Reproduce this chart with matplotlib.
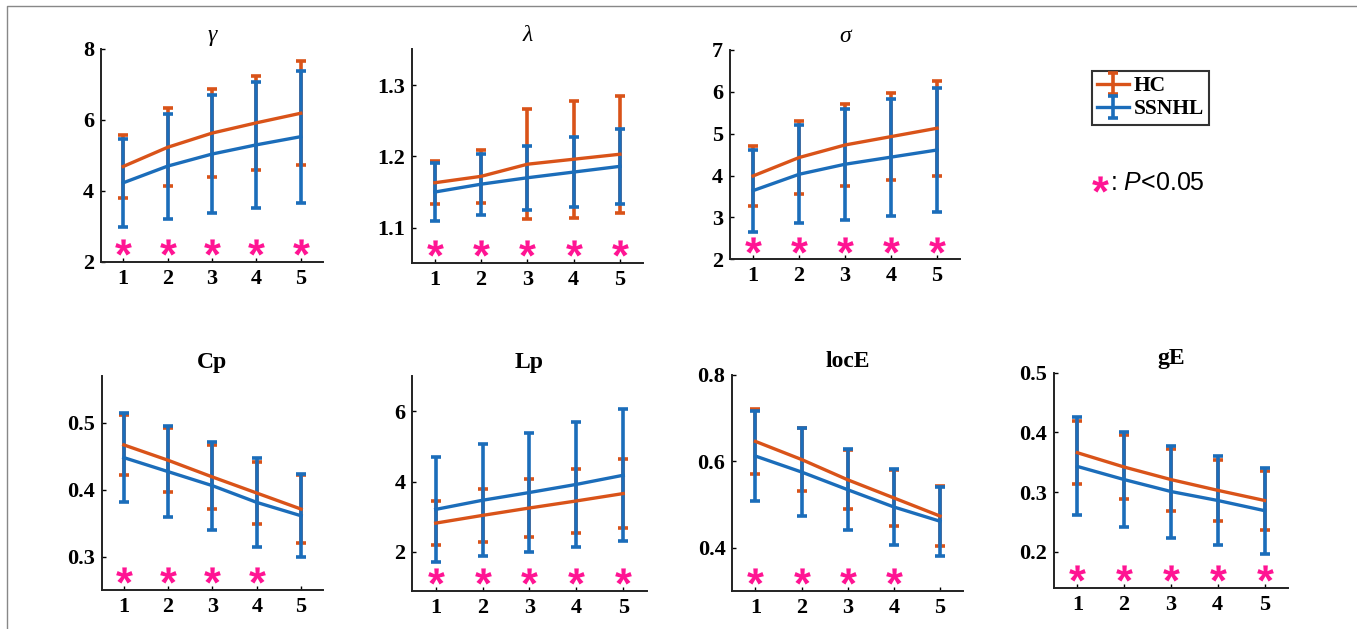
import numpy as np
import matplotlib
matplotlib.use("Agg")
import matplotlib.pyplot as plt
from matplotlib.transforms import blended_transform_factory
from matplotlib.lines import Line2D

plt.rcParams['font.family'] = ['Liberation Serif', 'DejaVu Serif']
plt.rcParams['mathtext.fontset'] = 'custom'
plt.rcParams['mathtext.it'] = 'Liberation Sans:italic'
plt.rcParams['mathtext.rm'] = 'Liberation Sans'
plt.rcParams['mathtext.bf'] = 'Liberation Sans:bold'

# thresholds 1..5
x = [1, 2, 3, 4, 5]

# mean and sd per metric, HC and SSNHL
gamma_hc = [4.69, 5.23, 5.63, 5.92, 6.19]
gamma_hc_sd = [0.90, 1.10, 1.24, 1.33, 1.47]
gamma_ss = [4.23, 4.70, 5.04, 5.30, 5.53]
gamma_ss_sd = [1.24, 1.48, 1.65, 1.77, 1.86]

lambda_hc = [1.163, 1.172, 1.189, 1.196, 1.203]
lambda_hc_sd = [0.030, 0.037, 0.077, 0.082, 0.082]
lambda_ss = [1.150, 1.161, 1.170, 1.178, 1.186]
lambda_ss_sd = [0.040, 0.043, 0.045, 0.049, 0.053]

sigma_hc = [3.99, 4.43, 4.73, 4.93, 5.13]
sigma_hc_sd = [0.72, 0.87, 0.98, 1.04, 1.14]
sigma_ss = [3.64, 4.03, 4.27, 4.44, 4.61]
sigma_ss_sd = [0.98, 1.17, 1.32, 1.40, 1.47]

cp_hc = [0.467, 0.444, 0.419, 0.395, 0.371]
cp_hc_sd = [0.045, 0.048, 0.048, 0.046, 0.051]
cp_ss = [0.448, 0.427, 0.406, 0.381, 0.361]
cp_ss_sd = [0.066, 0.068, 0.066, 0.066, 0.062]

lp_hc = [2.82, 3.04, 3.25, 3.45, 3.66]
lp_hc_sd = [0.63, 0.75, 0.83, 0.90, 0.98]
lp_ss = [3.21, 3.47, 3.69, 3.92, 4.18]
lp_ss_sd = [1.50, 1.59, 1.68, 1.78, 1.87]

loce_hc = [0.646, 0.604, 0.557, 0.515, 0.473]
loce_hc_sd = [0.075, 0.073, 0.068, 0.065, 0.070]
loce_ss = [0.612, 0.575, 0.534, 0.494, 0.461]
loce_ss_sd = [0.105, 0.103, 0.094, 0.089, 0.080]

ge_hc = [0.366, 0.342, 0.321, 0.303, 0.286]
ge_hc_sd = [0.053, 0.053, 0.052, 0.051, 0.050]
ge_ss = [0.343, 0.321, 0.301, 0.286, 0.269]
ge_ss_sd = [0.082, 0.080, 0.077, 0.074, 0.072]

# P<0.05 flags per threshold
sig_all = [1, 1, 1, 1, 1]
sig_first4 = [1, 1, 1, 1, 0]

HC_COLOR = '#D95319'
SS_COLOR = '#1B6DBA'
STAR_COLOR = '#FF1493'
STAR = r'$\mathbf{*}$'


def draw_panel(fig, rect, title, italic, hc, hc_sd, ss, ss_sd, sig, ylim, yticks, ytl):
    ax = fig.add_axes(rect)
    h1 = ax.errorbar(x, hc, yerr=hc_sd, color=HC_COLOR, lw=2.4, elinewidth=2.6,
                     capsize=3.5, capthick=2.6, label='HC')
    h2 = ax.errorbar(x, ss, yerr=ss_sd, color=SS_COLOR, lw=2.4, elinewidth=2.6,
                     capsize=3.5, capthick=2.6, label='SSNHL')
    trans = blended_transform_factory(ax.transData, ax.transAxes)
    sx = [xi for xi, s in zip(x, sig) if s]
    ax.plot(sx, [0.07] * len(sx), ls='none', marker=STAR, ms=12, mew=0, color=STAR_COLOR,
            transform=trans, clip_on=False)
    ax.set_xlim(0.5, 5.5)
    ax.set_ylim(*ylim)
    ax.set_xticks(x)
    ax.set_yticks(yticks)
    ax.set_yticklabels(ytl)
    for side in ['top', 'right']:
        ax.spines[side].set_visible(False)
    for side in ['left', 'bottom']:
        ax.spines[side].set_linewidth(1.4)
        ax.spines[side].set_color('#222222')
    ax.tick_params(direction='in', length=3, width=1.0, labelsize=16, pad=5)
    for lab in ax.get_xticklabels() + ax.get_yticklabels():
        lab.set_fontweight('bold')
    if italic:
        ax.set_title(title, fontsize=17, style='italic', pad=6)
    else:
        ax.set_title(title, fontsize=17, fontweight='bold', pad=6)
    return h1, h2


fig = plt.figure(figsize=(13.57, 6.29), dpi=100)

h1, h2 = draw_panel(fig, [0.0744, 0.5835, 0.1636, 0.3386], 'γ', True,
                    gamma_hc, gamma_hc_sd, gamma_ss, gamma_ss_sd, sig_all,
                    (2, 8), [2, 4, 6, 8], ['2', '4', '6', '8'])
draw_panel(fig, [0.3034, 0.5814, 0.1705, 0.3400], 'λ', True,
           lambda_hc, lambda_hc_sd, lambda_ss, lambda_ss_sd, sig_all,
           (1.05, 1.35), [1.1, 1.2, 1.3], ['1.1', '1.2', '1.3'])
draw_panel(fig, [0.5380, 0.5878, 0.1695, 0.3328], 'σ', True,
           sigma_hc, sigma_hc_sd, sigma_ss, sigma_ss_sd, sig_all,
           (2, 7), [2, 3, 4, 5, 6, 7], ['2', '3', '4', '5', '6', '7'])
draw_panel(fig, [0.0749, 0.0620, 0.1633, 0.3402], 'Cp', False,
           cp_hc, cp_hc_sd, cp_ss, cp_ss_sd, sig_first4,
           (0.25, 0.57), [0.3, 0.4, 0.5], ['0.3', '0.4', '0.5'])
draw_panel(fig, [0.3038, 0.0609, 0.1727, 0.3413], 'Lp', False,
           lp_hc, lp_hc_sd, lp_ss, lp_ss_sd, sig_all,
           (0.9, 7), [2, 4, 6], ['2', '4', '6'])
draw_panel(fig, [0.5397, 0.0609, 0.1700, 0.3430], 'locE', False,
           loce_hc, loce_hc_sd, loce_ss, loce_ss_sd, sig_first4,
           (0.3, 0.8), [0.4, 0.6, 0.8], ['0.4', '0.6', '0.8'])
draw_panel(fig, [0.7767, 0.0657, 0.1724, 0.3418], 'gE', False,
           ge_hc, ge_hc_sd, ge_ss, ge_ss_sd, sig_all,
           (0.14, 0.5), [0.2, 0.3, 0.4, 0.5], ['0.2', '0.3', '0.4', '0.5'])

leg = fig.legend([h1, h2], ['HC', 'SSNHL'], loc='upper left',
                 bbox_to_anchor=(0.8045, 0.8876), borderaxespad=0, fancybox=False,
                 prop={'family': 'Liberation Serif', 'weight': 'bold', 'size': 15.5},
                 handlelength=1.5, handletextpad=0.2, borderpad=0.25, labelspacing=0.15)
leg.get_frame().set_edgecolor('black')
leg.get_frame().set_linewidth(1.5)

# significance note
fig.lines.append(Line2D([1100 / 1357], [1 - 184 / 629], marker=STAR, ms=12, mew=0,
                        color=STAR_COLOR, transform=fig.transFigure))
fig.text(1110 / 1357, 1 - 183 / 629, r': $P$<0.05', fontsize=18, family='Liberation Sans',
         va='center', ha='left')

# outer frame
fig.lines.append(Line2D([7 / 1357, 7 / 1357, 1], [0, 1 - 6 / 629, 1 - 6 / 629],
                        color='#888888', lw=1.0, transform=fig.transFigure))

fig.savefig('out.png', dpi=100)
